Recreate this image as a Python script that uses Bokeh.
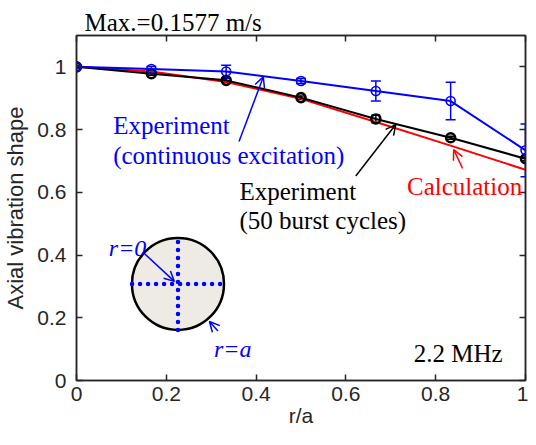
from bokeh.plotting import figure
from bokeh.models import (ColumnDataSource, Whisker, TeeHead, Label, Arrow,
                          OpenHead, LinearAxis, Range1d, FixedTicker)
from bokeh.embed import file_html
from bokeh.resources import INLINE

# ---- data ----
r_over_a = [0.0, 0.1667, 0.3333, 0.5, 0.6667, 0.8333, 1.0]
calculation = [1.0, 0.985, 0.952, 0.898, 0.824, 0.749, 0.672]
burst = [1.0, 0.978, 0.957, 0.902, 0.834, 0.774, 0.707]
burst_err = [0.004, 0.005, 0.006, 0.005, 0.012, 0.005, 0.006]
continuous = [1.0, 0.993, 0.985, 0.955, 0.923, 0.891, 0.734]
continuous_err = [0.005, 0.008, 0.020, 0.008, 0.032, 0.060, 0.084]
x_ticks = [0, 0.2, 0.4, 0.6, 0.8, 1]
y_ticks = [0, 0.2, 0.4, 0.6, 0.8, 1]

SERIF = "Liberation Serif"
SANS = "Liberation Sans"
AX = "#262626"
W, H = 528, 437
FRAME_BOTTOM = 380

p = figure(width=W, height=H, output_backend="svg", toolbar_location=None,
           x_range=Range1d(0, 1), y_range=Range1d(0, 1.1),
           min_border_left=75, min_border_right=3, min_border_top=35,
           min_border_bottom=H - FRAME_BOTTOM, x_axis_label="r/a",
           y_axis_label="Axial vibration shape",
           title="Max.=0.1577 m/s")
p.title.text_font = SERIF
p.title.text_font_size = "25px"
p.title.text_font_style = "normal"
p.title.text_color = "black"
p.title.align = "left"
p.title.offset = 8
p.title.standoff = 0
p.grid.visible = False
p.outline_line_color = AX
p.outline_line_width = 1.5
p.background_fill_color = "white"

for ax in (p.xaxis[0], p.yaxis[0]):
    ax.ticker = FixedTicker(ticks=x_ticks if ax is p.xaxis[0] else y_ticks)
    ax.major_tick_in = 6
    ax.major_tick_out = 0
    ax.minor_tick_in = 0
    ax.minor_tick_out = 0
    ax.axis_line_color = AX
    ax.axis_line_width = 1.5
    ax.major_tick_line_color = AX
    ax.major_tick_line_width = 1.5
    ax.major_label_text_font = SANS
    ax.major_label_text_font_size = "21px"
    ax.major_label_text_color = AX
    ax.axis_label_text_font = SANS
    ax.axis_label_text_font_size = "22px"
    ax.axis_label_text_font_style = "normal"
    ax.axis_label_text_color = AX
p.xaxis[0].major_label_standoff = 6
p.xaxis[0].axis_label_standoff = 0
p.xaxis[0].axis_label_text_font_size = "21px"
p.yaxis[0].major_label_standoff = 10
p.yaxis[0].axis_label_standoff = 6
p.xaxis[0].major_label_overrides = {0: "0", 1: "1"}
p.yaxis[0].major_label_overrides = {0: "0", 1: "1"}

for loc, ticks in (("above", x_ticks), ("right", y_ticks)):
    a = LinearAxis(ticker=FixedTicker(ticks=ticks), major_tick_in=6,
                   major_tick_out=0, minor_tick_in=0, minor_tick_out=0,
                   axis_line_color=AX, axis_line_width=1.5,
                   major_tick_line_color=AX, major_tick_line_width=1.5,
                   major_label_text_font_size="1px",
                   major_label_text_color=None, major_label_standoff=0)
    p.add_layout(a, loc)

src = ColumnDataSource(dict(
    x=r_over_a, calc=calculation, burst=burst,
    b_up=[v + e for v, e in zip(burst, burst_err)],
    b_lo=[v - e for v, e in zip(burst, burst_err)],
    cont=continuous,
    c_up=[v + e for v, e in zip(continuous, continuous_err)],
    c_lo=[v - e for v, e in zip(continuous, continuous_err)],
))

BLUE = "#0000FF"
RED = "#FF0000"

p.line("x", "calc", source=src, line_color=RED, line_width=2)
p.line("x", "burst", source=src, line_color="black", line_width=2)
p.add_layout(Whisker(base="x", upper="b_up", lower="b_lo", source=src,
                     line_color="black", line_width=1.5,
                     upper_head=TeeHead(size=9, line_color="black", line_width=1.5),
                     lower_head=TeeHead(size=9, line_color="black", line_width=1.5)))
p.scatter("x", "burst", source=src, marker="circle", size=9,
          line_color="black", line_width=2.6, fill_color=None)
p.line("x", "cont", source=src, line_color=BLUE, line_width=2)
p.add_layout(Whisker(base="x", upper="c_up", lower="c_lo", source=src,
                     line_color=BLUE, line_width=1.5,
                     upper_head=TeeHead(size=10, line_color=BLUE, line_width=1.5),
                     lower_head=TeeHead(size=10, line_color=BLUE, line_width=1.5)))
p.scatter("x", "cont", source=src, marker="circle", size=9,
          line_color=BLUE, line_width=1.6, fill_color=None)

# ---- inset circle ----
cx, cy = 0.226, 0.308
rx, ry = 46 / 450, 46 / 313.6
p.scatter([cx], [cy], marker="circle", size=92, fill_color="#EDEBE3",
          line_color="black", line_width=2.5)
p.line([cx - rx, cx + rx], [cy, cy], line_color=BLUE, line_width=4.5,
       line_dash="0 8", line_cap="round")
p.line([cx, cx], [cy - ry, cy + ry], line_color=BLUE, line_width=4.5,
       line_dash="0 8", line_cap="round")

# ---- texts ----
def lab(x, y, t, color="black", style="normal", size="25px"):
    p.add_layout(Label(x=x, y=y, text=t, text_color=color, text_font=SERIF,
                       text_font_size=size, text_font_style=style,
                       text_baseline="alphabetic", text_align="left"))

lab(0.0816, 0.812, "Experiment", BLUE)
lab(0.0816, 0.717, "(continuous excitation)", BLUE)
lab(0.363, 0.603, "Experiment")
lab(0.363, 0.509, "(50 burst cycles)")
lab(0.736, 0.617, "Calculation", RED)
lab(0.751, 0.086, "2.2 MHz")
lab(0.072, 0.424, "r=0", BLUE, "italic", "24px")
lab(0.306, 0.100, "r=a", BLUE, "italic", "24px")

def arrow(x0, y0, x1, y1, color):
    p.add_layout(Arrow(x_start=x0, y_start=y0, x_end=x1, y_end=y1,
                       line_color=color, line_width=1.5,
                       end=OpenHead(size=10, line_color=color, line_width=1.5)))

arrow(0.362, 0.762, 0.416, 0.968, BLUE)
arrow(0.622, 0.652, 0.711, 0.816, "black")
arrow(0.860, 0.676, 0.840, 0.736, RED)
arrow(0.151, 0.405, 0.218, 0.316, BLUE)
arrow(0.315, 0.158, 0.296, 0.188, BLUE)

open("out.html", "w").write(file_html(p, INLINE))
